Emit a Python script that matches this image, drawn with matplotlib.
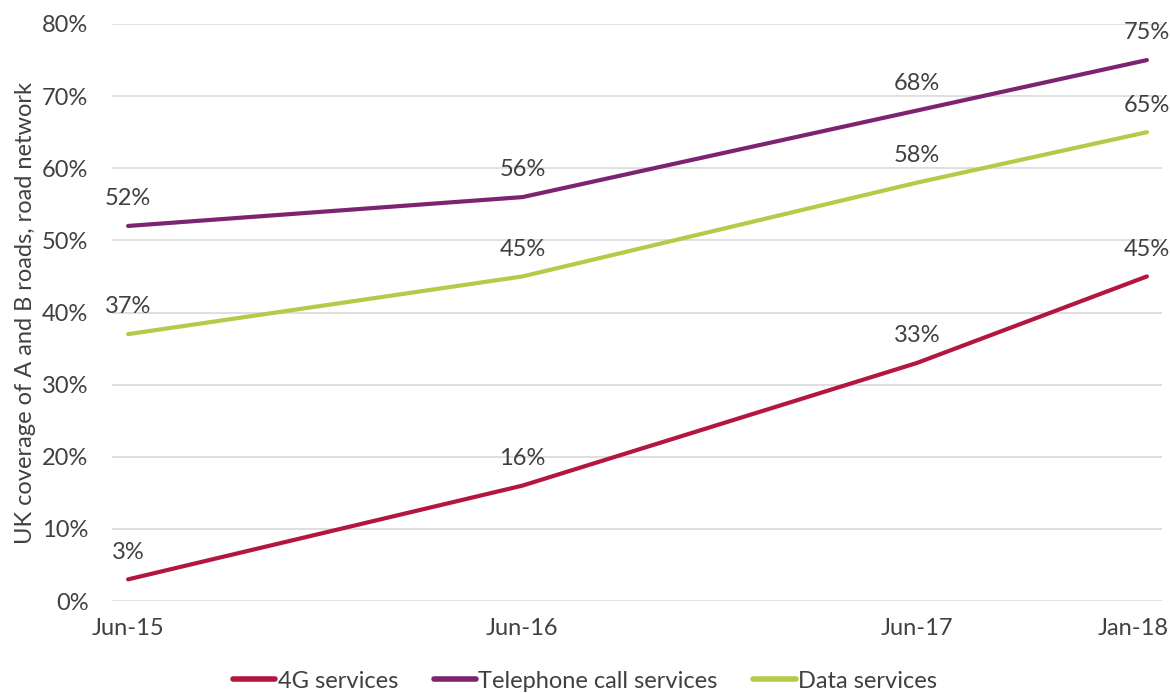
import matplotlib
matplotlib.use('Agg')
import matplotlib.pyplot as plt
from matplotlib.transforms import ScaledTranslation

plt.rcParams['font.family'] = ['Lato', 'DejaVu Sans']

# months since Jun-15
months = [0, 12, 24, 31]
tick_labels = ["Jun-15", "Jun-16", "Jun-17", "Jan-18"]

g4 = [3, 16, 33, 45]
calls = [52, 56, 68, 75]
data = [37, 45, 58, 65]

names = ["4G services", "Telephone call services", "Data services"]
colors = ["#B3163F", "#7D2471", "#B4CB48"]
txt = "#404040"
fs = 17

fig = plt.figure(figsize=(11.7, 6.93), dpi=100)
ax = fig.add_axes([112/1170, 1 - 601/693, (1162-112)/1170, (601-24)/693])

for vals, name, c in zip([g4, calls, data], names, colors):
    ax.plot(months, vals, color=c, lw=3, label=name, solid_capstyle='round')
    for m, v in zip(months, vals):
        ax.annotate(f"{v}%", (m, v), xytext=(0, 12), textcoords='offset points',
                    ha='center', va='bottom', fontsize=fs, color=txt)

ax.set_xlim(-0.49, 31.46)
ax.set_ylim(0, 80)
ax.set_yticks(range(0, 81, 10))
ax.set_yticklabels([f"{t}%" for t in range(0, 81, 10)])
ax.set_xticks(months)
ax.set_xticklabels(tick_labels)
ax.tick_params(length=0, labelsize=fs, colors=txt)
ax.tick_params(axis='y', pad=17)
ax.tick_params(axis='x', pad=12)
ax.grid(axis='y', color='#D9D9D9', lw=1.2)
ax.set_axisbelow(True)
for s in ax.spines.values():
    s.set_visible(False)

# Jan-18 label pulled back inside the figure
last = ax.get_xticklabels()[-1]
last.set_transform(last.get_transform() + ScaledTranslation(-14/100, 0, fig.dpi_scale_trans))

ax.set_ylabel("UK coverage of A and B roads, road network", fontsize=fs, color=txt)
ax.yaxis.set_label_coords(-0.072, 0.5)

leg = fig.legend(loc='center', bbox_to_anchor=(585/1170, 1 - 681/693), ncol=3,
                 frameon=False, fontsize=fs, handlelength=1.8, handletextpad=0.1,
                 columnspacing=1.5)
for t in leg.get_texts():
    t.set_color(txt)
for h in leg.get_lines():
    h.set_linewidth(4)

fig.savefig("out.png", dpi=100)
